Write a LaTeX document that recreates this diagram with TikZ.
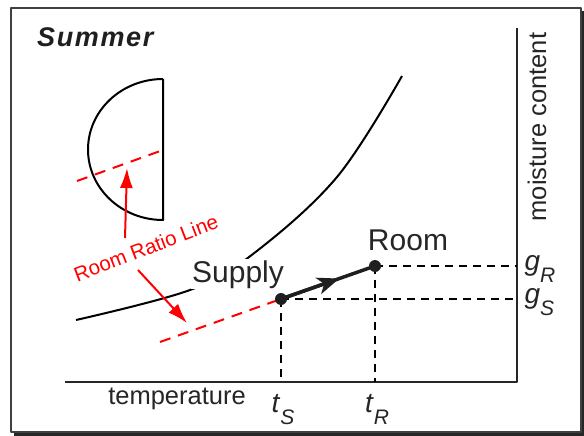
\documentclass[tikz,border=0pt]{standalone}
\usepackage{fontspec}
\setmainfont{Liberation Sans}
\setsansfont{Liberation Sans}
\newfontfamily\seasonfont[LetterSpace=6]{Liberation Sans}
\usetikzlibrary{arrows.meta,calc}
\newcommand{\axlabel}[2]{\textit{#1}\raisebox{-0.45em}{\fontsize{21}{21}\selectfont\textit{#2}}}

\begin{document}
\begin{tikzpicture}[x=1pt, y=-1pt, line join=round, >=Stealth,
    dot/.style={circle, fill=black!88, inner sep=0pt, minimum size=12pt},
    guide/.style={line width=1.4pt, dash pattern=on 8pt off 6pt},
    ratioline/.style={red, line width=2pt, dash pattern=on 11pt off 8pt},
    pointer/.style={red, line width=2pt, -{Latex[length=20pt, width=13pt]}},
    bigtext/.style={font=\fontsize{30}{31}\selectfont, text=black!85},
    axtext/.style={font=\fontsize{25.5}{27}\selectfont, text=black!85},
    symtext/.style={font=\fontsize{28}{30}\selectfont, text=black!85}]
    \useasboundingbox (0,0) rectangle (584,436);

    % frame with shadow
    \fill[black!85] (14,11) rectangle (584,436);
    \draw[fill=white, draw=black!75, line width=1.6pt] (11,8) rectangle (581,432);

    \coordinate (S) at (281,299);
    \coordinate (R) at (375,266);
    \coordinate (O) at (517,382);
    \coordinate (xend) at (65,382);
    \coordinate (ytop) at (517,28);
    \coordinate (gR) at (517,266);
    \coordinate (gS) at (517,299);
    \coordinate (tS) at (281,382);
    \coordinate (tR) at (375,382);
    \coordinate (ru1) at (77,181);
    \coordinate (ru2) at (163,150);
    \coordinate (rl1) at (160,342);

    \node[anchor=base west, inner sep=0pt, font=\fontsize{27}{28}\selectfont\seasonfont\bfseries\itshape, text=black!88]
      (season) at (37,47) {Summer};

    % room sector
    \draw[line width=2pt] (163,79) -- (163,220)
      arc[start angle=270, end angle=90, x radius=75pt, y radius=70.5pt];

    % saturation curve
    \draw[line width=2pt] plot[smooth, tension=0.6] coordinates
      {(76,320) (190,290) (253,254) (337,177) (402,76)};

    % axes
    \draw[line width=2pt, black!85] (xend) -- (O) -- (ytop);
    \node[axtext, rotate=90] (ylab) at (537,127) {moisture content};
    \node[axtext, anchor=base] (xlab) at (177,404) {temperature};

    \draw[guide] (S) -- (gS) (R) -- (gR) (S) -- (tS) (R) -- (tR);

    \node[symtext, anchor=base west] (gRlab) at (521,270) {\axlabel{g}{R}};
    \node[symtext, anchor=base west] (gSlab) at (521,303) {\axlabel{g}{S}};
    \node[symtext, anchor=base] (tSlab) at (283,412) {\axlabel{t}{S}};
    \node[symtext, anchor=base] (tRlab) at (377,412) {\axlabel{t}{R}};

    % room ratio lines
    \draw[ratioline] (ru1) -- (ru2);
    \draw[ratioline] (rl1) -- (S);
    \node[red, rotate=21, font=\fontsize{20.5}{21}\selectfont] (ratio) at (146,248) {Room Ratio Line};
    \draw[pointer] (125,238) -- (127,168);
    \draw[pointer] (138,270) -- (187,323);

    \node[bigtext, fill=white, inner sep=1pt, anchor=base] (supplylab) at (238,282) {Supply};
    \node[bigtext, anchor=base] (roomlab) at (408,250) {Room};

    \path (S) -- (R) coordinate[pos=0.62] (mid);
    \draw[line width=3.5pt, black!88] (S) -- (R);
    \draw[line width=3.5pt, black!88, -{Stealth[length=22pt, width=17pt, inset=6pt]}] (S) -- (mid);
    \node[dot] (supply) at (S) {};
    \node[dot] (room) at (R) {};
\end{tikzpicture}
\end{document}
